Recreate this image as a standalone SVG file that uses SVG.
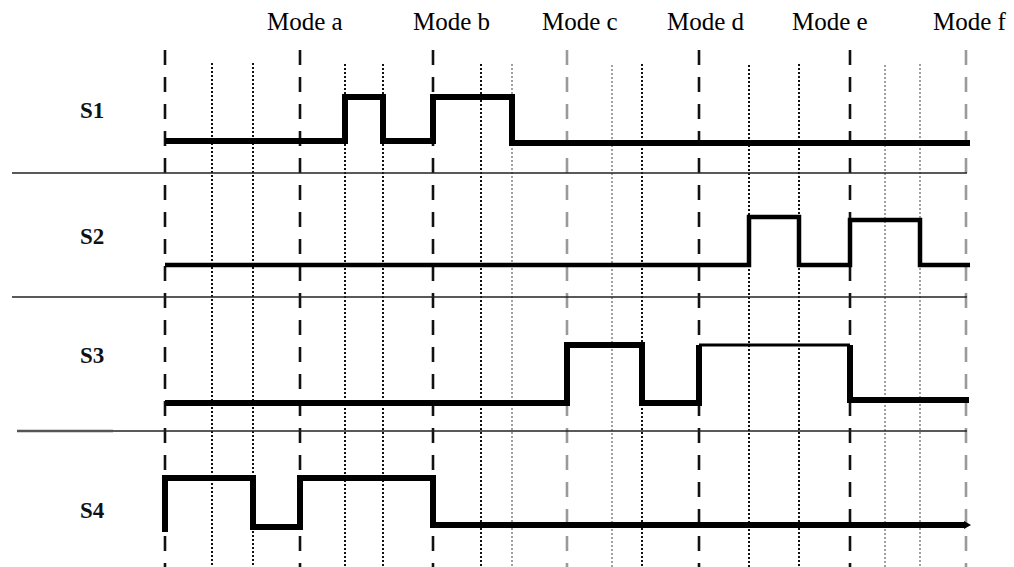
<svg xmlns="http://www.w3.org/2000/svg" width="1014" height="567" viewBox="0 0 1014 567">
  <style>
    .mode { font-family: "Liberation Serif", "Times New Roman", serif; font-size: 25px; fill: #000; }
    .sig { font-family: "Liberation Serif", "Times New Roman", serif; font-size: 23px; font-weight: bold; fill: #111; }
    .dash { stroke: #111; stroke-width: 2.6; stroke-dasharray: 15 12; fill: none; }
    .dash.gray { stroke: #9a9a9a; }
    .dot { stroke: #111; stroke-width: 2; stroke-dasharray: 2 2; fill: none; }
    .dot.gray { stroke: #a0a0a0; }
    .sep { stroke: #222; stroke-width: 1.4; fill: none; }
    .wave { stroke: #000; stroke-width: 6; fill: none; stroke-linejoin: miter; stroke-linecap: butt; }
    .wave.mid { stroke-width: 4.5; }
    .wave.thin { stroke-width: 3; }
  </style>
  <rect width="1014" height="567" fill="#fff"/>

  <!-- mode labels -->
  <g id="mode-labels">
    <text class="mode" x="267" y="30">Mode a</text>
    <text class="mode" x="413" y="30">Mode b</text>
    <text class="mode" x="542" y="30">Mode c</text>
    <text class="mode" x="667" y="30">Mode d</text>
    <text class="mode" x="792" y="30">Mode e</text>
    <text class="mode" x="933" y="30">Mode f</text>
  </g>

  <!-- mode boundaries (dashed) -->
  <g id="mode-boundaries">
    <line class="dash" x1="165" y1="50" x2="165" y2="567"/>
    <line class="dash" x1="300" y1="50" x2="300" y2="567"/>
    <line class="dash" x1="433" y1="50" x2="433" y2="567" stroke-width="2"/>
    <line class="dash gray" x1="567" y1="50" x2="567" y2="567"/>
    <line class="dash" x1="699" y1="50" x2="699" y2="567"/>
    <line class="dash" x1="850" y1="50" x2="850" y2="567"/>
    <line class="dash gray" x1="966" y1="50" x2="966" y2="567"/>
  </g>

  <!-- switching instants (dotted) -->
  <g id="switching-instants">
    <line class="dot" x1="212" y1="63" x2="212" y2="567"/>
    <line class="dot" x1="253" y1="63" x2="253" y2="567"/>
    <line class="dot" x1="345" y1="64" x2="345" y2="567"/>
    <line class="dot" x1="383" y1="64" x2="383" y2="567"/>
    <line class="dot" x1="481" y1="64" x2="481" y2="567"/>
    <line class="dot gray" x1="512" y1="64" x2="512" y2="567"/>
    <line class="dot gray" x1="612" y1="65" x2="612" y2="567"/>
    <line class="dot" x1="642" y1="64" x2="642" y2="567"/>
    <line class="dot" x1="749" y1="65" x2="749" y2="567" stroke-width="1.6"/>
    <line class="dot" x1="799" y1="64" x2="799" y2="567"/>
    <line class="dot gray" x1="885" y1="65" x2="885" y2="567"/>
    <line class="dot gray" x1="920" y1="64" x2="920" y2="567"/>
  </g>

  <!-- row separators -->
  <g id="separators">
    <line class="sep" x1="12" y1="173" x2="967" y2="173"/>
    <line class="sep" x1="12" y1="297" x2="967" y2="297"/>
    <line class="sep" x1="17" y1="431" x2="967" y2="431"/>
    <line x1="17" y1="431" x2="113" y2="431" stroke="#555" stroke-width="2.6"/>
  </g>

  <!-- S1 -->
  <g id="S1">
    <text class="sig" x="80" y="118">S1</text>
    <path class="wave" d="M165,141 H345 V97 H383 V141 H433 V97 H512 V143 H970"/>
  </g>

  <!-- S2 -->
  <g id="S2">
    <text class="sig" x="80" y="244">S2</text>
    <path class="wave mid" d="M165,265 H749 V217 H799 V265 H850 V220 H920 V265 H970"/>
  </g>

  <!-- S3 -->
  <g id="S3">
    <text class="sig" x="80" y="363">S3</text>
    <path class="wave" d="M165,403 H567 V345 H642 V403 H699 V345"/>
    <path class="wave thin" d="M699,345 H850"/>
    <path class="wave" d="M850,345 V400 H969"/>
  </g>

  <!-- S4 -->
  <g id="S4">
    <text class="sig" x="80" y="518">S4</text>
    <path class="wave" d="M165,532 V478 H253 V527 H300 V478 H433 V525 H966"/>
    <polygon points="964,521 971,525 964,529" fill="#000"/>
  </g>
</svg>
